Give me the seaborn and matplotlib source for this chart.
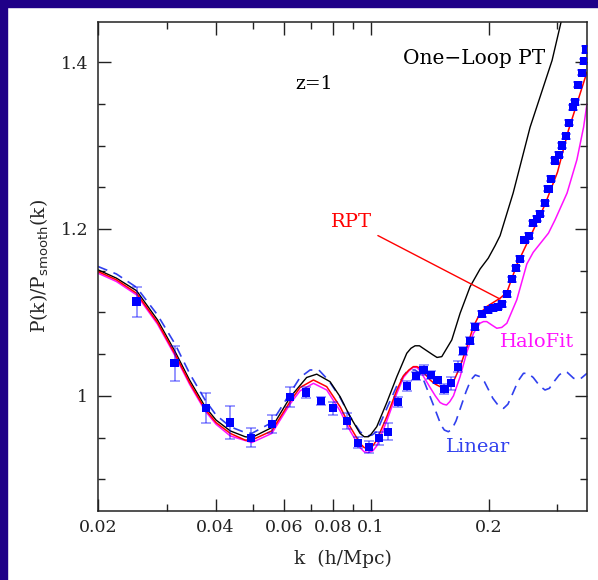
import numpy as np
import pandas as pd
import matplotlib
matplotlib.use("Agg")
import matplotlib.pyplot as plt
from matplotlib.patches import Rectangle
import seaborn as sns

k_linear = [0.020, 0.0223, 0.0251, 0.0284, 0.0315, 0.0343, 0.0376, 0.0401, 0.0436, 0.0476,
            0.0495, 0.0557, 0.062, 0.0658, 0.0698, 0.0735, 0.078, 0.0833, 0.0884, 0.0937,
            0.0955, 0.098, 0.1005, 0.1034, 0.1097, 0.1164, 0.123, 0.126, 0.1296, 0.133,
            0.136, 0.1441, 0.151, 0.154, 0.1577, 0.161, 0.165, 0.175, 0.18, 0.1848,
            0.19, 0.195, 0.205, 0.212, 0.2183, 0.224, 0.23, 0.238, 0.2455, 0.252,
            0.26, 0.27, 0.2787, 0.286, 0.295, 0.303, 0.3108, 0.318, 0.33, 0.3428, 0.357]
p_linear = [1.155, 1.146, 1.130, 1.097, 1.062, 1.027, 0.995, 0.977, 0.963, 0.956,
            0.955, 0.968, 1.003, 1.022, 1.031, 1.031, 1.018, 0.998, 0.975, 0.957,
            0.954, 0.952, 0.953, 0.957, 0.985, 1.012, 1.028, 1.031, 1.031, 1.027,
            1.020, 0.990, 0.965, 0.959, 0.957, 0.960, 0.970, 1.005, 1.019, 1.025,
            1.023, 1.017, 0.997, 0.988, 0.985, 0.990, 1.002, 1.018, 1.027, 1.027,
            1.022, 1.012, 1.007, 1.009, 1.018, 1.025, 1.029, 1.028, 1.021, 1.020, 1.027]

k_oneloop = [0.020, 0.0223, 0.0251, 0.0284, 0.0315, 0.0343, 0.0376, 0.0401, 0.0436, 0.0476,
             0.0495, 0.0557, 0.062, 0.0684, 0.0726, 0.0785, 0.0833, 0.0884, 0.0937, 0.096,
             0.0984, 0.1, 0.1034, 0.1097, 0.1164, 0.1234, 0.1265, 0.1296, 0.133, 0.1359,
             0.1441, 0.1475, 0.1517, 0.1609, 0.169, 0.1793, 0.1901, 0.1995, 0.2077, 0.2139,
             0.231, 0.2553, 0.2906, 0.3064, 0.315]
p_oneloop = [1.151, 1.141, 1.126, 1.091, 1.053, 1.019, 0.987, 0.971, 0.958, 0.951,
             0.950, 0.962, 0.998, 1.022, 1.026, 1.017, 0.999, 0.975, 0.955, 0.951,
             0.951, 0.954, 0.963, 0.992, 1.023, 1.051, 1.057, 1.060, 1.060, 1.057,
             1.049, 1.046, 1.047, 1.067, 1.099, 1.131, 1.152, 1.165, 1.180, 1.192,
             1.243, 1.322, 1.402, 1.448, 1.47]

k_rpt = [0.020, 0.0223, 0.0251, 0.0284, 0.0315, 0.0343, 0.0376, 0.0401, 0.0436, 0.0476,
         0.0495, 0.0557, 0.062, 0.0658, 0.0712, 0.077, 0.0833, 0.0884, 0.0937, 0.096,
         0.0984, 0.101, 0.1034, 0.1097, 0.1164, 0.121, 0.125, 0.1283, 0.131, 0.1335,
         0.1416, 0.146, 0.1502, 0.153, 0.156, 0.1625, 0.169, 0.176, 0.1828, 0.1901,
         0.1977, 0.2139, 0.2226, 0.236, 0.2604, 0.2785, 0.3, 0.3199, 0.3536, 0.357]
p_rpt = [1.149, 1.139, 1.123, 1.088, 1.050, 1.016, 0.984, 0.968, 0.955, 0.947,
         0.947, 0.958, 0.993, 1.010, 1.019, 1.011, 0.987, 0.963, 0.943, 0.938,
         0.937, 0.940, 0.947, 0.975, 1.007, 1.024, 1.031, 1.035, 1.035, 1.033,
         1.019, 1.014, 1.011, 1.009, 1.009, 1.017, 1.035, 1.059, 1.083, 1.099,
         1.107, 1.117, 1.124, 1.157, 1.199, 1.229, 1.268, 1.318, 1.382, 1.388]

k_halofit = [0.020, 0.0223, 0.0251, 0.0284, 0.0315, 0.0343, 0.0376, 0.0401, 0.0436, 0.0495,
             0.0557, 0.062, 0.0658, 0.0712, 0.077, 0.0833, 0.0884, 0.0937, 0.096, 0.0984,
             0.101, 0.1034, 0.1097, 0.1164, 0.121, 0.125, 0.128, 0.131, 0.1335, 0.1416,
             0.146, 0.1502, 0.153, 0.156, 0.159, 0.1625, 0.169, 0.176, 0.1828, 0.19,
             0.194, 0.1977, 0.2035, 0.2098, 0.216, 0.2226, 0.236, 0.2504, 0.26, 0.2736,
             0.2845, 0.2958, 0.3174, 0.3364, 0.3499, 0.357]
p_halofit = [1.147, 1.137, 1.121, 1.086, 1.048, 1.014, 0.982, 0.966, 0.952, 0.944,
             0.955, 0.990, 1.006, 1.015, 1.007, 0.982, 0.958, 0.938, 0.933, 0.932,
             0.934, 0.940, 0.970, 1.003, 1.022, 1.030, 1.034, 1.034, 1.030, 1.010,
             1.000, 0.992, 0.990, 0.989, 0.993, 1.000, 1.023, 1.053, 1.075, 1.087,
             1.089, 1.089, 1.085, 1.081, 1.082, 1.087, 1.115, 1.158, 1.172, 1.185,
             1.195, 1.211, 1.243, 1.283, 1.322, 1.350]

# --- simulation measurements with error bars ---
k_sim = [0.0251, 0.0314, 0.0377, 0.0436, 0.0493, 0.0557, 0.0620, 0.0681, 0.0744, 0.0800,
         0.0867, 0.0925, 0.0988, 0.1050, 0.1107, 0.1170, 0.1234, 0.1302, 0.1362, 0.1425,
         0.1479, 0.1541, 0.1602, 0.1666, 0.1722, 0.1793, 0.1848, 0.1920, 0.1996, 0.2047,
         0.2116, 0.2166, 0.2226, 0.2292, 0.2352, 0.2410, 0.2470, 0.2543, 0.2592, 0.2664,
         0.2705, 0.2787, 0.2845, 0.2885, 0.2958, 0.3023, 0.3087, 0.3148, 0.3205, 0.3280,
         0.3324, 0.3390, 0.3458, 0.3510, 0.3540]
p_sim = [1.113, 1.039, 0.985, 0.968, 0.950, 0.966, 0.999, 1.004, 0.994, 0.985,
         0.970, 0.944, 0.939, 0.949, 0.957, 0.993, 1.012, 1.024, 1.031, 1.025,
         1.019, 1.008, 1.015, 1.035, 1.054, 1.066, 1.083, 1.098, 1.103, 1.105,
         1.107, 1.110, 1.122, 1.140, 1.153, 1.164, 1.187, 1.192, 1.207, 1.212,
         1.218, 1.231, 1.248, 1.260, 1.282, 1.289, 1.300, 1.311, 1.327, 1.346,
         1.352, 1.373, 1.387, 1.401, 1.415]
err_sim = [0.018, 0.021, 0.018, 0.020, 0.011, 0.011, 0.012, 0.006, 0.005, 0.008,
           0.010, 0.007, 0.007, 0.008, 0.010, 0.006, 0.006, 0.005, 0.006, 0.005,
           0.004, 0.006, 0.008, 0.007, 0.005, 0.004, 0.004, 0.004, 0.004, 0.003,
           0.003, 0.003, 0.003, 0.003, 0.003, 0.003, 0.003, 0.003, 0.003, 0.003,
           0.003, 0.003, 0.003, 0.003, 0.003, 0.003, 0.003, 0.003, 0.003, 0.003,
           0.003, 0.003, 0.003, 0.003, 0.004]

x_major = [0.02, 0.04, 0.06, 0.08, 0.1, 0.2]
x_major_labels = ["0.02", "0.04", "0.06", "0.08", "0.1", "0.2"]
x_minor = [0.03, 0.05, 0.07, 0.09, 0.3]
y_major = [1.0, 1.2, 1.4]
y_major_labels = ["1", "1.2", "1.4"]
y_minor = [0.9, 0.95, 1.05, 1.1, 1.15, 1.25, 1.3, 1.35]

sns.set_style("ticks")
plt.rcParams["font.family"] = ["DejaVu Serif"]
plt.rcParams["mathtext.fontset"] = "dejavuserif"

fig = plt.figure(figsize=(5.98, 5.80), dpi=100)
navy = "#1f0088"
fig.patches.append(Rectangle((0, 1 - 7 / 580), 1, 7 / 580, transform=fig.transFigure,
                             color=navy, zorder=0))
fig.patches.append(Rectangle((0, 0), 7 / 598, 1, transform=fig.transFigure,
                             color=navy, zorder=0))

ax = fig.add_axes([98 / 598, 69 / 580, 489 / 598, 489 / 580])

lin = pd.DataFrame({"k": k_linear, "p": p_linear})
one = pd.DataFrame({"k": k_oneloop, "p": p_oneloop})
rpt = pd.DataFrame({"k": k_rpt, "p": p_rpt})
hf = pd.DataFrame({"k": k_halofit, "p": p_halofit})
sim = pd.DataFrame({"k": k_sim, "p": p_sim, "err": err_sim})

sns.lineplot(data=lin, x="k", y="p", ax=ax, color="#3040ee", lw=1.2,
             estimator=None, sort=False, dashes=False, linestyle=(0, (6, 4)))
sns.lineplot(data=one, x="k", y="p", ax=ax, color="black", lw=1.0, estimator=None, sort=False)
sns.lineplot(data=hf, x="k", y="p", ax=ax, color="#ff10ff", lw=1.1, estimator=None, sort=False)
sns.lineplot(data=rpt, x="k", y="p", ax=ax, color="#ff0000", lw=1.1, estimator=None, sort=False)

ax.errorbar(sim["k"], sim["p"], yerr=sim["err"], fmt="none", ecolor="#0000ff",
            alpha=0.45, elinewidth=1.3, capsize=3.5, capthick=1.2, zorder=4)
sns.scatterplot(data=sim, x="k", y="p", ax=ax, marker="s", s=34, color="#0000ff",
                edgecolor="none", zorder=5)

ax.set_xscale("log")
ax.set_xlim(0.02, 0.357)
ax.set_ylim(0.862, 1.448)
ax.set_xticks(x_major)
ax.set_xticklabels(x_major_labels)
ax.set_xticks(x_minor, minor=True)
ax.set_xticklabels([], minor=True)
ax.set_yticks(y_major)
ax.set_yticklabels(y_major_labels)
ax.set_yticks(y_minor, minor=True)
ax.tick_params(which="both", direction="in", top=True, right=True, colors="#222222",
               width=1.0, labelsize=12.5)
ax.tick_params(which="major", length=9)
ax.tick_params(which="minor", length=4.8)
ax.tick_params(axis="x", pad=6)
ax.tick_params(axis="y", pad=7)
for sp in ax.spines.values():
    sp.set_linewidth(1.1)
    sp.set_color("#222222")

ax.set_xlabel("k  (h/Mpc)", fontsize=13.5, labelpad=10)
ax.set_ylabel(r"P(k)/P$_{\mathsf{smooth}}$(k)", fontsize=13.5, labelpad=8)

ax.text(0.914, 0.926, "One\u2212Loop PT", transform=ax.transAxes, ha="right",
        va="center", fontsize=14.5, color="black")
ax.text(0.442, 0.873, "z=1", transform=ax.transAxes, ha="center", va="center",
        fontsize=13.5, color="black")
ax.annotate("RPT", xy=(0.2139, 1.116), xytext=(0.519, 0.591), textcoords="axes fraction",
            ha="center", va="center", fontsize=14, color="#ff0000",
            arrowprops=dict(arrowstyle="-", color="#ff0000", lw=1.0, shrinkA=2, shrinkB=0))
ax.text(0.898, 0.346, "HaloFit", transform=ax.transAxes, ha="center", va="center",
        fontsize=14, color="#ff10ff")
ax.text(0.777, 0.131, "Linear", transform=ax.transAxes, ha="center", va="center",
        fontsize=14, color="#3040ee")

ax.set_facecolor("white")
fig.savefig("out.png", dpi=100, facecolor="white")
